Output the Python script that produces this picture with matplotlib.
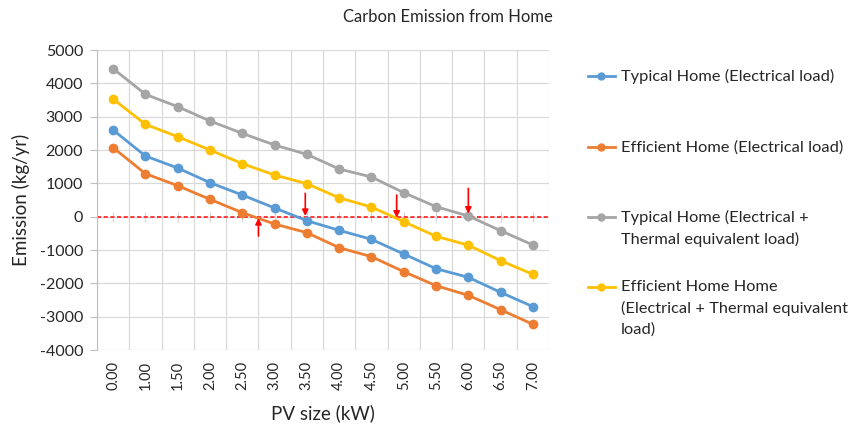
import matplotlib.pyplot as plt
from matplotlib.lines import Line2D

plt.rcParams['font.family'] = ['Lato', 'DejaVu Sans']
plt.rcParams['axes.unicode_minus'] = False

pv_size = ["0.00", "1.00", "1.50", "2.00", "2.50", "3.00", "3.50",
           "4.00", "4.50", "5.00", "5.50", "6.00", "6.50", "7.00"]
typical_elec = [2600, 1820, 1460, 1020, 650, 260, -120,
                -410, -680, -1120, -1560, -1820, -2270, -2700]
efficient_elec = [2070, 1290, 930, 520, 120, -220, -480,
                  -930, -1200, -1650, -2070, -2360, -2790, -3230]
typical_total = [4440, 3670, 3300, 2870, 2500, 2150, 1870,
                 1430, 1190, 720, 300, 20, -420, -850]
efficient_total = [3530, 2770, 2400, 2000, 1590, 1250, 990,
                   565, 290, -150, -590, -855, -1320, -1730]

labels = ["Typical Home (Electrical load)",
          "Efficient Home (Electrical load)",
          "Typical Home (Electrical +\nThermal equivalent load)",
          "Efficient Home Home\n(Electrical + Thermal equivalent\nload)"]
colors = ["#5B9BD5", "#ED7D31", "#A5A5A5", "#FFC000"]
series = [typical_elec, efficient_elec, typical_total, efficient_total]

# red arrows: (x position, tail value, head value)
arrows = [(4.5, -580, -40), (5.95, 700, 20), (8.78, 650, -30), (11.0, 850, 90)]

txt = '#262626'

fig = plt.figure(figsize=(8.53, 4.26), dpi=100)
ax = fig.add_axes([0.1137, 0.1784, 0.530, 0.7042])

x = list(range(len(pv_size)))
for vals, c in zip(series, colors):
    ax.plot(x, vals, color=c, lw=2, marker='o', ms=6, zorder=3)

ax.plot(x, [0] * len(x), ls='none', marker='|', ms=7, color='#D9D9D9', zorder=1)
ax.axhline(0, color='#FF1A1A', lw=1.2, ls=(0, (2.5, 1.5)), zorder=2)

for xa, y0, y1 in arrows:
    ax.annotate("", xy=(xa, y1), xytext=(xa, y0),
                arrowprops=dict(arrowstyle='-|>', color='red', lw=1.2,
                                mutation_scale=9, shrinkA=0, shrinkB=0), zorder=4)

ax.set_xlim(-0.5, len(x) - 0.5)
ax.set_ylim(-4000, 5000)
ax.set_yticks(range(-4000, 5001, 1000))
ax.set_xticks(x)
ax.set_xticklabels(pv_size, rotation=90, fontsize=10.5, color=txt)
ax.set_xticks([i - 0.5 for i in range(len(x) + 1)], minor=True)
ax.tick_params(axis='x', which='both', length=0, pad=8)
ax.tick_params(axis='y', length=5, color='#BFBFBF', labelsize=11.5, labelcolor=txt, pad=5)
ax.grid(True, which='minor', axis='x', color='#D9D9D9', lw=0.9)
ax.grid(True, which='major', axis='y', color='#D9D9D9', lw=0.9)
ax.set_axisbelow(True)
for s in ['top', 'right', 'bottom']:
    ax.spines[s].set_visible(False)
ax.spines['left'].set_color('#BFBFBF')

ax.set_ylabel("Emission (kg/yr)", fontsize=13.5, color=txt, labelpad=7)
ax.set_xlabel("PV size (kW)", fontsize=13.5, color=txt, labelpad=10)
fig.text(448 / 853, 1 - 17 / 426, "Carbon Emission from Home", fontsize=12,
         color=txt, ha='center', va='center')

# legend drawn by hand to keep the wide spacing
leg_y = [76, 147, 217, 287]
for lab, c, yy in zip(labels, colors, leg_y):
    yf = 1 - yy / 426
    fig.add_artist(Line2D([588 / 853, 615 / 853], [yf, yf], color=c, lw=2,
                          transform=fig.transFigure))
    fig.add_artist(Line2D([601.5 / 853], [yf], color=c, marker='o', ms=5,
                          transform=fig.transFigure))
    fig.text(621 / 853, yf + 7 / 426, lab, fontsize=11.8, color=txt,
             ha='left', va='top', linespacing=1.55)

fig.savefig("out.png", dpi=100)
